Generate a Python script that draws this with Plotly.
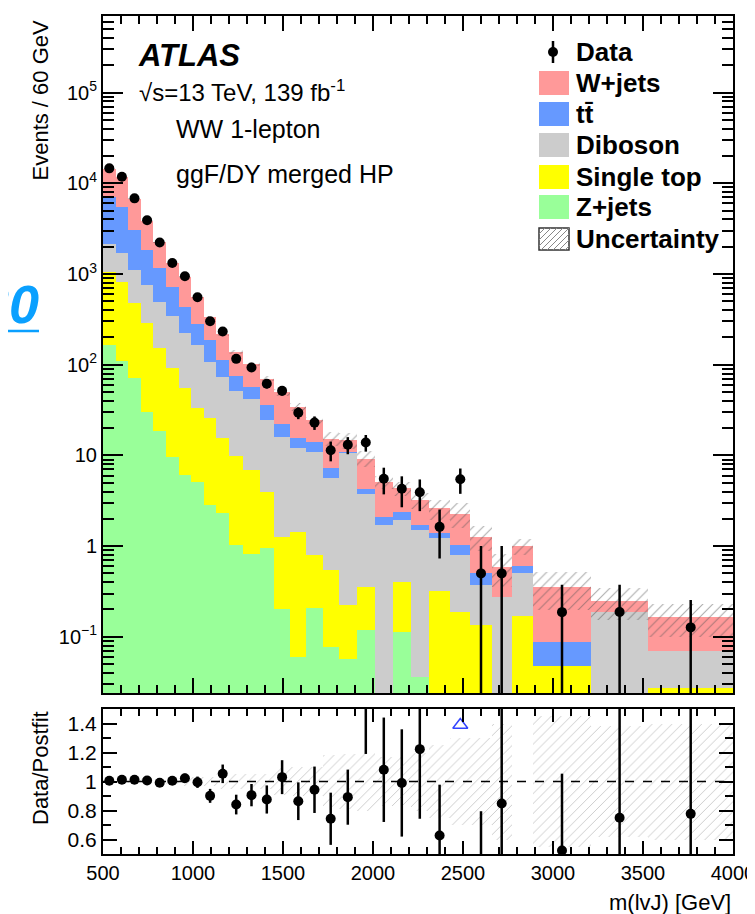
import numpy as np
import plotly.graph_objects as go

# ---------------- data ----------------
bin_edges = [500, 570, 640, 710, 780, 850, 920, 990, 1060, 1130, 1200, 1280, 1370, 1450,
             1540, 1630, 1720, 1810, 1910, 2010, 2110, 2210, 2310, 2430, 2540, 2660, 2770,
             2890, 3210, 3530, 4000]

zjets = [164, 110, 71, 30, 18.5, 9.6, 6.05, 5.1, 2.83, 2.31, 1.03, 0.82, 0.95, 0.20, 0.06,
         0.21, 0.078, 0.057, 0.12, 0, 0.114, 0.036, 0, 0, 0, 0, 0, 0, 0, 0]
single_top = [878, 698, 403, 256, 133, 82, 49, 28, 22.9, 13.2, 8.77, 6.05, 3.01, 1.07, 1.38,
              0.59, 0.466, 0.167, 0.235, 0, 0.29, 0, 0.322, 0.189, 0.135, 0, 0.171, 0.048, 0, 0.027]
diboson = [1076, 878, 622, 463, 335, 250, 167, 130.5, 81.3, 57.1, 41.1, 35.4, 20.5, 14.7, 10.5,
           10.1, 5.03, 10.28, 3.44, 1.70, 1.53, 1.46, 0.894, 0.607, 0.237, 0.277, 0.329, 0, 0.189, 0.043]
ttbar = [4913, 3864, 1980, 1104, 675, 376, 210, 120, 79, 39.2, 23.6, 14.1, 11.3, 6.5, 3.45,
         3.2, 1.61, 0.43, 0.52, 0.40, 0.46, 0.20, 0.164, 0.23, 0.128, 0, 0.107, 0.0406, 0, 0]
wjets = [7524, 6120, 3669, 2039, 1083, 602, 493, 273, 149, 108, 63.5, 46.4, 34.6, 27.5, 18.9,
         10.3, 8.17, 3.77, 4.93, 3.01, 1.93, 1.51, 1.22, 1.26, 0.766, 0.315, 0.401, 0.268, 0.061, 0.094]

data = [14630, 11810, 6830, 3920, 2225, 1325, 946, 554, 302, 232, 116, 93.1, 61.6, 51.5, 29.5,
        23.0, 11.4, 13.1, 13.9, 5.52, 4.28, 3.93, 1.63, 5.47, 0.5, 0.5, None, 0.187, 0.188, 0.127]
data_err = [112, 101, 77, 58, 44, 34, 28.5, 21.8, 16.1, 14.1, 9.3, 7.9, 6.8, 5.9, 4.4,
            3.9, 2.8, 2.8, 2.9, 1.8, 1.6, 1.5, 0.9, 1.7, 0.5, 0.5, None, 0.187, 0.188, 0.127]

ratio = [1.005, 1.012, 1.012, 1.007, 0.991, 1.005, 1.023, 0.995, 0.901, 1.053, 0.841, 0.906,
         0.876, 1.03, 0.864, 0.943, 0.743, 0.892, 1.55, 1.081, 0.99, 1.223, 0.628, 2.39, 0.395,
         0.848, None, 0.524, 0.75, 0.777]
ratio_err = [0.008, 0.009, 0.011, 0.015, 0.02, 0.026, 0.031, 0.039, 0.048, 0.064, 0.068, 0.077,
             0.097, 0.117, 0.13, 0.16, 0.18, 0.19, 0.36, 0.36, 0.37, 0.48, 0.35, 0.76, 0.4,
             0.84, None, 0.53, 0.76, 0.77]

rel_unc = [0.012, 0.012, 0.013, 0.014, 0.016, 0.02, 0.03, 0.03, 0.03, 0.05, 0.05, 0.05, 0.055,
           0.09, 0.1, 0.1, 0.18, 0.19, 0.2, 0.17, 0.17, 0.2, 0.25, 0.3, 0.3, 0.4, 0.2, 0.45,
           0.38, 0.4]
ratio_band_unc = rel_unc[:26] + [None] + rel_unc[27:]

offscale_x = [2485]
offscale_y = [1.39]

x_ticks = [500, 1000, 1500, 2000, 2500, 3000, 3500, 4000]
y_ticks = [0.1, 1, 10, 100, 1e3, 1e4, 1e5]
y_ticktext = ["10<sup>\u22121</sup>", "1", "10", "10<sup>2</sup>", "10<sup>3</sup>",
              "10<sup>4</sup>", "10<sup>5</sup>"]
r_ticks = [0.6, 0.8, 1.0, 1.2, 1.4]
r_ticktext = ["0.6", "0.8", "1", "1.2", "1.4"]

# ---------------- derived ----------------
edges = np.array(bin_edges, dtype=float)
centers = 0.5 * (edges[1:] + edges[:-1])
widths = np.diff(edges)

comps = [("Z+jets", zjets, "#99ff99"),
         ("Single top", single_top, "#ffff00"),
         ("Diboson", diboson, "#cccccc"),
         ("ttbar", ttbar, "#6699ff"),
         ("W+jets", wjets, "#ff9999")]
cum = []
run = np.zeros(len(centers))
for name, vals, col in comps:
    run = run + np.array(vals, dtype=float)
    cum.append((name, run.copy(), col))
total = run

# page geometry (the html body adds an 8px offset)
OFF = 8
PW, PH = 755, 914
W, H = PW - OFF, PH - OFF
ml, mr, mt, mb = 103 - OFF, PW - 733, 16 - OFF, PH - 854


def px_x(p):
    return (p - OFF - ml) / (W - ml - mr)


def px_y(p):
    return (H - mb - (p - OFF)) / (H - mt - mb)


FONT = "Liberation Sans, Arial, Helvetica, sans-serif"

fig = go.Figure()

# stacked histogram drawn as overlaid cumulative bars (top layer first)
for name, vals, col in reversed(cum):
    yv = [v if v > 0 else None for v in vals]
    fig.add_trace(go.Bar(x=centers, y=yv, width=widths, marker=dict(color=col, line=dict(width=0)),
                         xaxis="x", yaxis="y", showlegend=False, name=name))

# uncertainty band (main)
unc_abs = total * np.array(rel_unc)
fig.add_trace(go.Bar(x=centers, y=2 * unc_abs, base=total - unc_abs, width=widths,
                     marker=dict(color="rgba(0,0,0,0)", line=dict(width=0),
                                 pattern=dict(shape="/", fgcolor="#555555", size=7, solidity=0.15)),
                     xaxis="x", yaxis="y", showlegend=False))

# data (main)
dx, dy, dep, dem = [], [], [], []
for c, v, e in zip(centers, data, data_err):
    if v is None:
        continue
    dx.append(c)
    dy.append(v)
    dep.append(e)
    dem.append(min(e, 0.9995 * v))
fig.add_trace(go.Scatter(x=dx, y=dy, mode="markers",
                         marker=dict(color="black", size=10),
                         error_y=dict(type="data", array=dep, arrayminus=dem, color="black",
                                      thickness=2.5, width=0),
                         xaxis="x", yaxis="y", showlegend=False))

# ratio band
rb_x, rb_b, rb_h, rb_w = [], [], [], []
for c, w, u in zip(centers, widths, ratio_band_unc):
    if u is None:
        continue
    rb_x.append(c)
    rb_b.append(1 - u)
    rb_h.append(2 * u)
    rb_w.append(w)
fig.add_trace(go.Bar(x=rb_x, y=rb_h, base=rb_b, width=rb_w,
                     marker=dict(color="rgba(0,0,0,0)", line=dict(width=0),
                                 pattern=dict(shape="/", fgcolor="#888888", size=7, solidity=0.12)),
                     xaxis="x2", yaxis="y2", showlegend=False))

# ratio data
rx, ry, re = [], [], []
for c, v, e in zip(centers, ratio, ratio_err):
    if v is None:
        continue
    rx.append(c)
    ry.append(v)
    re.append(e)
fig.add_trace(go.Scatter(x=rx, y=ry, mode="markers",
                         marker=dict(color="black", size=10),
                         error_y=dict(type="data", array=re, color="black", thickness=2.5, width=0),
                         xaxis="x2", yaxis="y2", showlegend=False, cliponaxis=True))
fig.add_trace(go.Scatter(x=offscale_x, y=offscale_y, mode="markers",
                         marker=dict(symbol="triangle-up-open", color="#3344ff", size=13,
                                     line=dict(width=1.5, color="#3344ff")),
                         xaxis="x2", yaxis="y2", showlegend=False))

# dashed unity line
fig.add_shape(type="line", xref="x2", yref="y2", x0=500, x1=4000, y0=1, y1=1,
              line=dict(color="black", width=1.5, dash="dash"))

axis_common = dict(showline=True, linecolor="black", linewidth=2, mirror="allticks",
                   ticks="inside", tickcolor="black", showgrid=False, zeroline=False,
                   automargin=False, tickfont=dict(family=FONT, size=20, color="black"))

fig.update_layout(
    width=W, height=H, margin=dict(l=ml, r=mr, t=mt, b=mb, autoexpand=False),
    paper_bgcolor="white", plot_bgcolor="white", barmode="overlay", bargap=0,
    font=dict(family=FONT, color="black"),
    xaxis=dict(**axis_common, domain=[0, 1], anchor="y", range=[500, 4000], tickvals=x_ticks,
               showticklabels=False, ticklen=15, tickwidth=1.5,
               minor=dict(dtick=100, tick0=500, ticks="inside", ticklen=8, tickwidth=1.5,
                          tickcolor="black", showgrid=False), matches="x2"),
    yaxis=dict(**{**axis_common, "tickfont": dict(family=FONT, size=20, color="black")},
               domain=[px_y(693), 1], anchor="x", type="log",
               range=[np.log10(0.024), np.log10(7e5)], tickvals=y_ticks, ticktext=y_ticktext,
               ticklen=20, tickwidth=1.5,
               minor=dict(tickvals=[m * 10.0 ** k for k in range(-2, 6) for m in range(2, 10)],
                          ticks="inside", ticklen=11, tickwidth=1.5, tickcolor="black",
                          showgrid=False)),
    xaxis2=dict(**axis_common, domain=[0, 1], anchor="y2", range=[500, 4000], tickvals=x_ticks,
                ticktext=[str(t) for t in x_ticks], ticklen=13, tickwidth=1.5,
                ticklabeloverflow="allow",
                minor=dict(dtick=100, tick0=500, ticks="inside", ticklen=7, tickwidth=1.5,
                           tickcolor="black", showgrid=False)),
    yaxis2=dict(**{**axis_common, "tickfont": dict(family=FONT, size=21, color="black")},
                domain=[0, px_y(709)], anchor="x2", range=[0.5, 1.5], tickvals=r_ticks,
                ticktext=r_ticktext, ticklen=14, tickwidth=1.5,
                minor=dict(tickvals=[0.5, 0.7, 0.9, 1.1, 1.3, 1.5], ticks="inside", ticklen=8,
                           tickwidth=1.5, tickcolor="black", showgrid=False)),
)

ann = []


def text(x, y, s, size, xanchor="left", yanchor="middle", angle=0, color="black"):
    ann.append(dict(x=px_x(x), y=px_y(y), xref="paper", yref="paper", text=s, showarrow=False,
                    xanchor=xanchor, yanchor=yanchor, textangle=angle,
                    font=dict(family=FONT, size=size, color=color)))


text(136, 55, "<b><i>ATLAS</i></b>", 31)
text(137, 91, "\u221As=13 TeV, 139 fb<sup>-1</sup>", 24)
text(174, 129, "WW 1-lepton", 25)
text(174, 174, "ggF/DY merged HP", 25)

text(40, 18, "Events / 60 GeV", 22, xanchor="center", yanchor="top", angle=-90)
text(40, 768, "Data/Postfit", 22, xanchor="center", yanchor="middle", angle=-90)
text(733, 902, "m(lvJ) [GeV]", 22, xanchor="right", yanchor="middle")

# custom legend
leg_rows = [("Data", None), ("W+jets", "#ff9999"), ("t<span>t\u0304</span>", "#6699ff"),
            ("Diboson", "#cccccc"), ("Single top", "#ffff00"), ("Z+jets", "#99ff99"),
            ("Uncertainty", "hatch")]
leg_y = [52, 83, 114, 145, 177, 207, 239]
shapes = []
for (lab, col), yy in zip(leg_rows, leg_y):
    text(574, yy, "<b>" + lab + "</b>", 26)
    if col is None:
        shapes.append(dict(type="line", xref="paper", yref="paper", x0=px_x(553), x1=px_x(553),
                           y0=px_y(yy - 11), y1=px_y(yy + 11), line=dict(color="black", width=2.5)))
        shapes.append(dict(type="circle", xref="paper", yref="paper", x0=px_x(548), x1=px_x(558),
                           y0=px_y(yy + 5), y1=px_y(yy - 5), fillcolor="black",
                           line=dict(color="black", width=0)))
    elif col == "hatch":
        x0, x1, y0, y1 = 539, 569, yy - 11, yy + 11
        shapes.append(dict(type="rect", xref="paper", yref="paper", x0=px_x(x0), x1=px_x(x1),
                           y0=px_y(y1), y1=px_y(y0), line=dict(color="#333333", width=1.5),
                           fillcolor="white"))
        for s in range(-16, 30, 6):
            ax0, ay0 = x0 + s, y1
            ax1, ay1 = x0 + s + (y1 - y0), y0
            if ax0 < x0:
                ay0 -= (x0 - ax0)
                ax0 = x0
            if ax1 > x1:
                ay1 += (ax1 - x1)
                ax1 = x1
            if ax1 <= ax0:
                continue
            shapes.append(dict(type="line", xref="paper", yref="paper", x0=px_x(ax0),
                               x1=px_x(ax1), y0=px_y(ay0), y1=px_y(ay1),
                               line=dict(color="#888888", width=1)))
    else:
        shapes.append(dict(type="rect", xref="paper", yref="paper", x0=px_x(539), x1=px_x(569),
                           y0=px_y(yy + 12), y1=px_y(yy - 12), fillcolor=col,
                           line=dict(color=col, width=0)))

# partial blue link text at the left edge of the picture
ann.append(dict(x=px_x(41), y=px_y(304), xref="paper", yref="paper",
                text="<b><i>30</i></b>", showarrow=False, xanchor="right", yanchor="middle",
                font=dict(family=FONT, size=54, color="#0aa0ff")))
shapes.append(dict(type="line", xref="paper", yref="paper", x0=px_x(0), x1=px_x(39),
                   y0=px_y(331), y1=px_y(331), line=dict(color="#0aa0ff", width=2.5)))

fig.update_layout(annotations=ann)
for s in shapes:
    fig.add_shape(**s)

fig.write_html("out.html")
